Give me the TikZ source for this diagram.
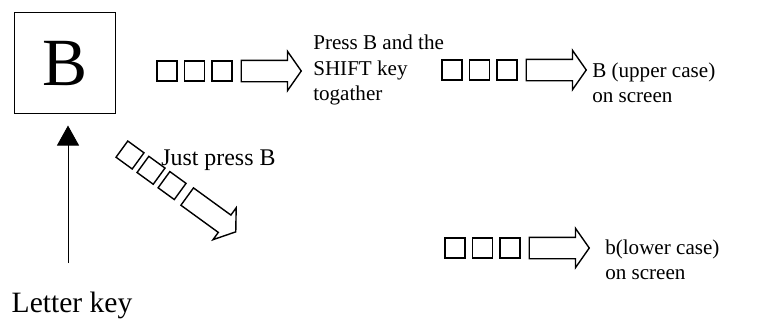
\documentclass[tikz,border=0pt]{standalone}
\usepackage{fontspec}
\setmainfont{Liberation Serif}
\usetikzlibrary{shapes.arrows,arrows.meta,positioning}

\begin{document}
\begin{tikzpicture}[x=0.025cm, y=-0.025cm,
    keysq/.style={draw, line width=1pt, minimum size=0.5cm, inner sep=0pt},
    blockarrow/.style={draw, line width=1pt, single arrow, single arrow head extend=0.225cm,
      single arrow tip angle=110, minimum height=1.5cm, inner xsep=0pt, inner ysep=0.25cm, anchor=west},
    note/.style={inner sep=0pt, align=left, anchor=west, font=\fontsize{15}{18}\selectfont}]
  \useasboundingbox (0,0) rectangle (757,324);

  % the key
  \node[draw, line width=0.7pt, minimum size=2.5cm, inner sep=0pt, font=\fontsize{48}{50}\selectfont] (bkey) at (65,63) {B};
  \node[font=\fontsize{21}{24}\selectfont, inner sep=0pt] (letterkey) at (72,305) {Letter key};
  \coordinate (stem) at (68,263);
  \draw[line width=0.7pt, -{Triangle[width=0.55cm,length=0.5cm]}, shorten >=0.3cm] (stem) -- (stem |- bkey.south);

  % shift path
  \node[keysq] (sa1) at (167,71) {};
  \node[keysq, right=0.15cm of sa1] (sa2) {};
  \node[keysq, right=0.15cm of sa2] (sa3) {};
  \node[blockarrow, right=0.2cm of sa3] (arra) {};
  \node[note] (shift) at (313,70) {Press B and the\\SHIFT key\\togather};
  \node[keysq] (sb1) at (452,70) {};
  \node[keysq, right=0.15cm of sb1] (sb2) {};
  \node[keysq, right=0.15cm of sb2] (sb3) {};
  \node[blockarrow, right=0.2cm of sb3] (arrb) {};
  \node[note] (upper) at (592,83) {B (upper case)\\on screen};

  % plain path
  \begin{scope}[shift={(130,155)}, rotate=-36, transform shape]
    \node[keysq] (sc1) at (0,0) {};
    \node[keysq] (sc2) at (26,0) {};
    \node[keysq] (sc3) at (52,0) {};
    \node[blockarrow] (arrc) at (70,0) {};
  \end{scope}
  \node[note, font=\fontsize{17}{18}\selectfont] (plain) at (161,160) {Just press B};
  \node[keysq] (sd1) at (455,248) {};
  \node[keysq, right=0.15cm of sd1] (sd2) {};
  \node[keysq, right=0.15cm of sd2] (sd3) {};
  \node[blockarrow, right=0.2cm of sd3] (arrd) {};
  \node[note] (lower) at (605,260) {b(lower case)\\on screen};
\end{tikzpicture}
\end{document}
